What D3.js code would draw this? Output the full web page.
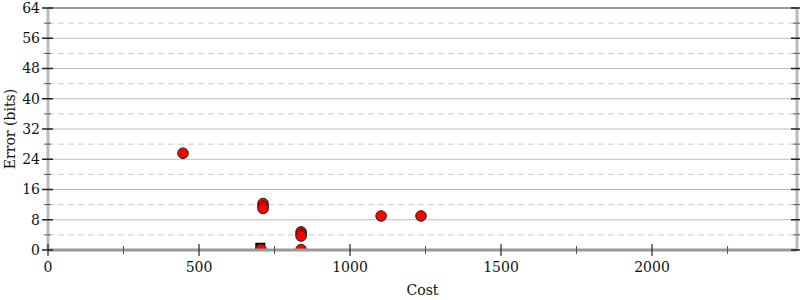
<!DOCTYPE html>
<html>
<head>
<meta charset="utf-8">
<script src="https://cdn.jsdelivr.net/npm/d3@7"></script>
<style>
  body { margin: 0; background: #fff; }
  text { font-family: "DejaVu Serif", serif; font-size: 14px; fill: #111; }
</style>
</head>
<body>
<div id="chart"></div>
<script>
// initial program (square)
const startCost = [703];
const startError = [0.6];

// alternatives (circles)
const altCost = [447, 712, 712, 712, 705, 838, 838, 838, 838, 1103, 1235];
const altError = [25.6, 12.3, 11.6, 11.0, 0.2, 4.8, 4.2, 3.7, 0.1, 9.0, 9.0];

const yMajor = [0, 8, 16, 24, 32, 40, 48, 56, 64];
const yMinor = [4, 12, 20, 28, 36, 44, 52, 60];
const xMajor = [0, 500, 1000, 1500, 2000];
const xMinor = [250, 750, 1250, 1750, 2250];

const config = {
    width: 800,
    height: 300,
    margin: {top: 8, right: 3, bottom: 50, left: 48}
};

const innerW = config.width - config.margin.left - config.margin.right;
const innerH = config.height - config.margin.top - config.margin.bottom;

const svg = d3.select('#chart').append('svg')
    .attr('width', config.width)
    .attr('height', config.height);

const chart = svg.append('g')
    .attr('transform', `translate(${config.margin.left},${config.margin.top})`);

const xScale = d3.scaleLinear().domain([0, 2480]).range([0, innerW]);
const yScale = d3.scaleLinear().domain([0, 64]).range([innerH, 0]);

// grid lines
chart.selectAll('.grid-major')
    .data(yMajor.filter(d => d > 0 && d < 64))
    .join('line')
    .attr('x1', 0).attr('x2', innerW)
    .attr('y1', d => yScale(d)).attr('y2', d => yScale(d))
    .attr('stroke', '#bbb').attr('stroke-width', 1);

chart.selectAll('.grid-minor')
    .data(yMinor)
    .join('line')
    .attr('x1', 0).attr('x2', innerW)
    .attr('y1', d => yScale(d)).attr('y2', d => yScale(d))
    .attr('stroke', '#ccc').attr('stroke-width', 1)
    .attr('stroke-dasharray', '6,4');

// top line
chart.append('line')
    .attr('x1', 0).attr('x2', innerW)
    .attr('y1', yScale(64)).attr('y2', yScale(64))
    .attr('stroke', '#999').attr('stroke-width', 2);

// points, clipped to plot area
chart.append('clipPath').attr('id', 'clip')
    .append('rect').attr('width', innerW).attr('height', innerH);

const pts = chart.append('g').attr('clip-path', 'url(#clip)');

pts.selectAll('rect.start')
    .data(startCost)
    .join('rect')
    .attr('class', 'start')
    .attr('x', d => xScale(d) - 5)
    .attr('y', (d, i) => yScale(startError[i]) - 5)
    .attr('width', 10).attr('height', 10)
    .attr('fill', '#000');

pts.selectAll('circle')
    .data(altCost)
    .join('circle')
    .attr('cx', d => xScale(d))
    .attr('cy', (d, i) => yScale(altError[i]))
    .attr('r', 5.3)
    .attr('fill', 'red')
    .attr('stroke', '#222')
    .attr('stroke-width', 1);

// axes lines
chart.append('line')
    .attr('x1', 0).attr('x2', 0).attr('y1', 0).attr('y2', innerH)
    .attr('stroke', '#bbb').attr('stroke-width', 3);
chart.append('line')
    .attr('x1', innerW).attr('x2', innerW).attr('y1', 0).attr('y2', innerH)
    .attr('stroke', '#bbb').attr('stroke-width', 3);
chart.append('line')
    .attr('x1', 0).attr('x2', innerW).attr('y1', innerH).attr('y2', innerH)
    .attr('stroke', '#999').attr('stroke-width', 3);

// y ticks, left and right
[0, innerW].forEach(x0 => {
    chart.selectAll(null)
        .data(yMajor)
        .join('line')
        .attr('x1', x0 - 6).attr('x2', x0 + 5)
        .attr('y1', d => yScale(d)).attr('y2', d => yScale(d))
        .attr('stroke', '#222').attr('stroke-width', 1.5);
    chart.selectAll(null)
        .data(yMinor)
        .join('line')
        .attr('x1', x0 - 4).attr('x2', x0 + 3)
        .attr('y1', d => yScale(d)).attr('y2', d => yScale(d))
        .attr('stroke', '#555').attr('stroke-width', 1);
});

chart.selectAll('.ylabel')
    .data(yMajor)
    .join('text')
    .attr('x', -8)
    .attr('y', d => yScale(d))
    .attr('dy', '0.35em')
    .attr('text-anchor', 'end')
    .text(d => d);

// x ticks
chart.selectAll('.xtick')
    .data(xMajor)
    .join('line')
    .attr('x1', d => xScale(d)).attr('x2', d => xScale(d))
    .attr('y1', innerH - 6).attr('y2', innerH + 6)
    .attr('stroke', '#222').attr('stroke-width', 1.2);
chart.selectAll('.xminor')
    .data(xMinor)
    .join('line')
    .attr('x1', d => xScale(d)).attr('x2', d => xScale(d))
    .attr('y1', innerH - 4).attr('y2', innerH + 4)
    .attr('stroke', '#555').attr('stroke-width', 1);

chart.selectAll('.xlabel')
    .data(xMajor)
    .join('text')
    .attr('x', d => xScale(d))
    .attr('y', innerH + 22)
    .attr('text-anchor', 'middle')
    .text(d => d);

// axis titles
svg.append('text')
    .attr('x', config.margin.left + innerW / 2)
    .attr('y', 295)
    .attr('text-anchor', 'middle')
    .text('Cost');

svg.append('text')
    .attr('transform', `translate(15, ${config.margin.top + innerH / 2}) rotate(-90)`)
    .attr('text-anchor', 'middle')
    .text('Error (bits)');
</script>
</body>
</html>
